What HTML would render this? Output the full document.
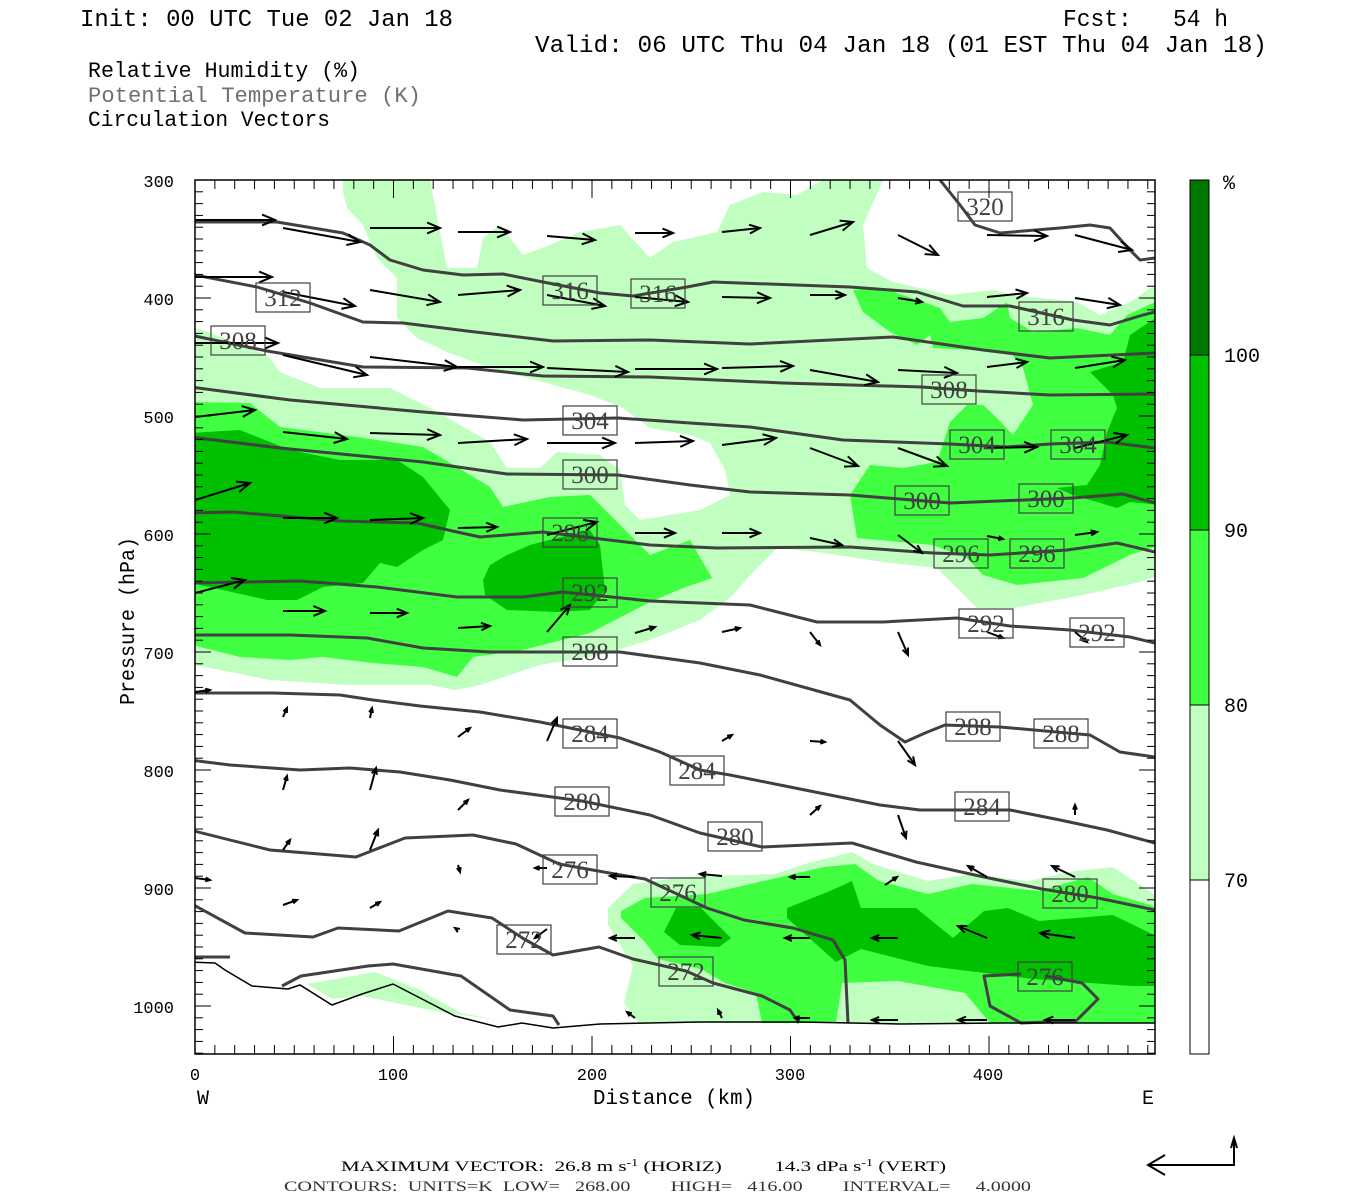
<!DOCTYPE html>
<html><head><meta charset="utf-8"><style>
html,body{margin:0;padding:0;background:#fff;}
svg{display:block;}
text{font-family:"Liberation Serif",serif;}
.m{font-family:"Liberation Mono",monospace;}
</style></head><body>
<svg id="s" width="1350" height="1200" viewBox="0 0 1350 1200" xmlns="http://www.w3.org/2000/svg">
<defs><clipPath id="pc"><rect x="195" y="180" width="960" height="874"/></clipPath></defs>
<text class="m" x="80" y="26" font-size="24" textLength="373" lengthAdjust="spacingAndGlyphs">Init: 00 UTC Tue 02 Jan 18</text>
<text class="m" x="1063" y="26" font-size="24" textLength="165" lengthAdjust="spacingAndGlyphs" xml:space="preserve">Fcst:   54 h</text>
<text class="m" x="535" y="52" font-size="24" textLength="732" lengthAdjust="spacingAndGlyphs">Valid: 06 UTC Thu 04 Jan 18 (01 EST Thu 04 Jan 18)</text>
<text class="m" x="88" y="77" font-size="22" textLength="272" lengthAdjust="spacingAndGlyphs">Relative Humidity (%)</text>
<text class="m" x="88" y="102" font-size="22" fill="#707070" textLength="333" lengthAdjust="spacingAndGlyphs">Potential Temperature (K)</text>
<text class="m" x="88" y="126" font-size="22" textLength="242" lengthAdjust="spacingAndGlyphs">Circulation Vectors</text>

<g clip-path="url(#pc)">
<rect x="195" y="180" width="960" height="874" fill="#c0ffc0"/>
<g fill="#fff">
<polygon points="195,180 343,180 343,192 347,208 363,225 377,258 397,278 397,318 417,338 447,352 490,368 543,382 590,395 623,408 650,428 690,435 710,443 725,470 730,495 700,510 640,520 625,505 620,470 600,455 557,452 540,468 507,468 490,442 430,408 390,388 320,388 280,372 267,355 203,330 195,328"/>
<polygon points="883,180 1160,180 1155,285 1130,302 1100,315 1077,302 1013,295 993,290 950,295 893,282 867,268 863,225"/>
<polygon points="430,180 823,180 797,195 763,192 730,205 717,232 673,242 650,258 620,225 580,232 550,245 523,255 500,225 483,238 477,268 447,268"/>
<polygon points="1160,575 1140,582 1083,595 1013,608 977,608 937,568 883,562 817,552 777,548 750,575 733,595 700,620 650,640 600,655 540,665 480,685 455,690 430,685 350,685 270,680 195,665 195,1060 1160,1060"/>
</g>
<g fill="#40ff40">
<polygon points="190,402 250,403 280,427 357,437 423,447 457,467 490,487 503,507 550,497 590,495 650,555 690,540 712,578 683,588 650,602 590,633 523,650 473,657 457,677 423,667 373,663 323,657 290,660 240,657 200,647 190,643"/>
<polygon points="853,290 883,288 923,302 940,308 950,322 983,318 1007,302 1010,318 1033,332 1077,328 1110,335 1127,315 1160,300 1160,545 1130,555 1083,578 1017,585 983,575 967,558 933,545 857,538 850,495 870,465 903,468 937,462 950,422 967,405 983,405 997,418 1013,435 1033,405 1023,368 1010,352 933,348 930,335 917,345 890,332 863,312"/>
</g>
<g fill="#00c000">
<polygon points="190,433 240,430 290,450 340,460 397,460 423,477 450,510 443,540 423,550 397,567 380,563 363,583 323,587 297,600 267,600 223,590 190,583"/>
<polygon points="483,580 490,565 507,555 530,545 557,538 590,530 600,545 605,590 590,610 557,612 507,610 485,595"/>
<polygon points="1130,335 1160,315 1160,505 1130,502 1117,508 1097,502 1073,495 1057,488 1087,485 1100,465 1107,432 1117,408 1113,395 1090,372 1123,362"/>
</g>
<polygon fill="#c0ffc0" points="608,908 633,884 682,877 775,874 805,864 852,852 873,864 928,881 972,874 1027,881 1076,871 1113,867 1160,898 1160,1023 639,1023 624,1003 633,966 608,925"/>
<polygon fill="#40ff40" points="621,911 645,898 707,894 781,877 824,867 855,864 879,881 928,894 972,884 1039,891 1088,877 1113,894 1160,908 1160,1023 762,1023 756,993 725,983 701,969 658,959 645,942 621,918"/>
<polygon fill="#c0ffc0" points="842,983 898,981 965,993 990,1023 836,1023"/>
<polygon fill="#00c000" points="664,932 676,908 701,908 731,938 719,947 680,945"/>
<polygon fill="#00c000" points="787,908 830,891 852,881 861,908 916,908 953,938 984,911 1008,908 1039,921 1113,915 1160,938 1160,986 1132,986 1033,979 928,966 861,949 836,962 787,918"/>
<polygon fill="#c0ffc0" points="307,984 375,972 420,990 461,1013 498,1020 440,1012 362,996 332,999"/>
<g fill="none" stroke="#404040" stroke-width="3" stroke-linejoin="round">
<polyline points="940,180 960,205 975,225 1000,233 1060,228 1090,225 1110,228 1130,250 1140,260 1155,258"/>
<polyline points="190,222 277,222 343,233 370,245 390,260 423,270 463,275 503,274 543,282 600,293 633,296 687,287 713,282 850,287 917,292 963,306 1010,306 1073,320 1110,325 1143,315 1155,312"/>
<polyline points="190,274 257,287 310,303 363,322 403,323 467,331 553,341 650,340 750,344 893,337 983,350 1050,358 1155,353"/>
<polyline points="190,335 267,351 363,367 467,368 543,376 650,377 783,383 922,387 978,391 1050,395 1155,394"/>
<polyline points="190,387 290,400 423,412 523,420 618,418 690,423 750,427 843,440 950,444 1007,447 1050,444 1107,442 1155,448"/>
<polyline points="190,437 280,448 423,462 507,474 618,475 690,485 750,492 850,495 950,503 1073,498 1123,494 1155,503"/>
<polyline points="190,513 233,512 340,521 417,523 457,532 480,537 543,532 650,545 717,548 850,547 933,553 990,555 1067,550 1117,543 1155,552"/>
<polyline points="190,583 300,581 377,587 457,597 523,597 563,592 650,601 750,605 817,622 883,622 957,618 1010,626 1070,630 1130,637 1155,643"/>
<polyline points="190,635 290,635 367,638 423,648 490,652 620,652 700,663 760,675 850,700 880,725 905,742 925,733 945,725 1000,727 1090,735 1120,752 1155,757"/>
<polyline points="190,693 273,693 340,695 373,700 420,706 480,712 540,722 620,738 660,752 700,770 730,775 780,785 830,795 880,805 920,810 1010,810 1060,820 1107,830 1155,843"/>
<polyline points="190,760 230,765 300,770 350,768 400,772 450,780 500,790 582,801 650,815 700,833 762,847 852,843 916,862 984,877 1042,889 1098,898 1155,910"/>
<polyline points="190,830 270,850 356,857 405,838 473,835 516,844 559,864 615,874 645,879 707,908 744,920 793,928 833,940 845,960 848,1023"/>
<polyline points="190,903 245,933 313,937 338,928 399,931 448,911 492,918 524,939 553,955 599,947 633,959 686,971 713,983 762,996 790,1010 799,1023"/>
<polyline points="282,986 301,976 368,966 393,964 461,976 510,1010 553,1016 559,1025"/>
<polyline points="1021,974 984,976 990,1006 1021,1023 1076,1021 1098,999 1082,983 1045,976"/>
</g>
<polyline fill="none" stroke="#000" stroke-width="1.5" points="190,962 215,963 225,970 252,986 288,989 300,985 332,1005 362,994 393,984 455,1016 498,1027 522,1023 553,1028 600,1024 700,1022 800,1022 900,1024 1000,1023 1155,1023"/>
<line x1="190" y1="957" x2="230" y2="957" stroke="#404040" stroke-width="3"/>
<g id="arr" stroke="#000" stroke-width="2" fill="none"></g>
<g font-size="25" fill="#404040" text-anchor="middle" id="lbl"></g>
</g>
<rect x="195" y="180" width="960" height="874" fill="none" stroke="#000" stroke-width="1.5"/>
<g id="ticks" stroke="#000" stroke-width="1"></g>
<g font-size="17" text-anchor="end">
<text class="m" x="174" y="187">300</text><text class="m" x="174" y="305">400</text><text class="m" x="174" y="423">500</text><text class="m" x="174" y="541">600</text><text class="m" x="174" y="659">700</text><text class="m" x="174" y="777">800</text><text class="m" x="174" y="895">900</text><text class="m" x="174" y="1013">1000</text>
</g>
<g font-size="17" text-anchor="middle">
<text class="m" x="195" y="1080">0</text><text class="m" x="393" y="1080">100</text><text class="m" x="592" y="1080">200</text><text class="m" x="790" y="1080">300</text><text class="m" x="988" y="1080">400</text>
</g>
<text x="203" y="1104" font-size="20" text-anchor="middle" class="m">W</text>
<text x="1148" y="1104" font-size="20" text-anchor="middle" class="m">E</text>
<text x="593" y="1104" font-size="21" class="m" textLength="162" lengthAdjust="spacingAndGlyphs">Distance (km)</text>
<text transform="translate(134,705) rotate(-90)" font-size="21" class="m" textLength="168" lengthAdjust="spacingAndGlyphs">Pressure (hPa)</text>
<rect x="1190" y="180" width="19" height="175" fill="#007800"/>
<rect x="1190" y="355" width="19" height="175" fill="#00c000"/>
<rect x="1190" y="530" width="19" height="175" fill="#40ff40"/>
<rect x="1190" y="705" width="19" height="175" fill="#c0ffc0"/>
<rect x="1190" y="180" width="19" height="874" fill="none" stroke="#000"/>
<g stroke="#000"><line x1="1190" y1="355" x2="1209" y2="355"/><line x1="1190" y1="530" x2="1209" y2="530"/><line x1="1190" y1="705" x2="1209" y2="705"/><line x1="1190" y1="880" x2="1209" y2="880"/></g>
<g font-size="20"><text class="m" x="1223" y="189">%</text><text class="m" x="1224" y="362">100</text><text class="m" x="1224" y="537">90</text><text class="m" x="1224" y="712">80</text><text class="m" x="1224" y="887">70</text></g>
<text x="341" y="1171" font-size="15" textLength="605" lengthAdjust="spacingAndGlyphs" xml:space="preserve">MAXIMUM VECTOR:  26.8 m s<tspan dy="-5" font-size="10">-1</tspan><tspan dy="5"> (HORIZ)          14.3 dPa s</tspan><tspan dy="-5" font-size="10">-1</tspan><tspan dy="5"> (VERT)</tspan></text>
<text x="284" y="1191" font-size="15" fill="#333" textLength="747" lengthAdjust="spacingAndGlyphs" xml:space="preserve">CONTOURS:  UNITS=K  LOW=   268.00        HIGH=   416.00        INTERVAL=     4.0000</text>
<g stroke="#000" stroke-width="2" fill="none">
<polyline points="1148,1165 1234,1165 1234,1140"/>
<polyline points="1165,1155 1148,1165 1165,1175"/>
<polyline points="1231,1148 1234,1138 1237,1148"/>
</g>
</svg>
<script>
var NS="http://www.w3.org/2000/svg";
function el(p,t,a){var e=document.createElementNS(NS,t);for(var k in a)e.setAttribute(k,a[k]);p.appendChild(e);return e;}
var A=[
[195,220,275,220],[283,228,360,242],[370,228,440,228],[458,232,510,232],[547,236,595,240],[635,233,673,233],[722,232,760,228],[810,235,853,222],[898,235,938,255],[987,235,1047,236],[1075,235,1132,250],
[195,277,272,277],[283,292,355,306],[370,290,440,302],[458,295,520,290],[547,295,605,306],[635,297,688,302],[722,297,770,298],[810,295,845,295],[898,298,922,302],[987,297,1027,293],[1075,298,1120,305],
[195,343,278,343],[283,355,367,375],[370,357,457,367],[458,367,543,367],[547,368,628,372],[635,369,717,369],[722,368,793,366],[810,370,878,382],[898,370,957,373],[987,367,1027,362],[1075,368,1125,360],
[195,417,255,410],[283,432,347,439],[370,433,440,435],[458,443,527,439],[547,443,615,443],[635,443,693,441],[722,445,776,438],[810,448,858,466],[898,448,947,466],[987,448,1037,447],[1075,448,1127,435],
[195,500,250,483],[283,518,337,518],[370,520,423,518],[458,528,497,527],[547,535,597,522],[635,533,675,533],[722,533,760,533],[810,538,842,545],[898,535,922,553],[987,536,1003,539],[1075,535,1097,532],
[195,593,245,580],[283,611,325,611],[370,613,407,613],[458,628,490,626],[547,632,570,605],[635,633,655,627],[722,632,740,628],[810,632,820,645],[898,632,908,655],[987,632,1003,638],[1075,632,1087,642],
[195,692,210,690],[283,717,287,708],[370,718,372,708],[458,737,470,728],[547,741,557,718],[722,741,732,735],[810,741,825,742],[898,741,915,765],
[283,790,287,776],[370,790,376,768],[458,810,468,800],[810,815,820,806],[898,815,906,838],[1075,815,1075,805],
[195,878,210,880],[283,850,290,840],[370,850,378,830],[458,865,460,872],[547,868,535,868],[635,877,610,876],[722,876,700,874],[810,877,790,877],[885,885,897,877],[987,877,968,866],[1075,877,1052,866],
[283,905,297,900],[370,908,380,902],[458,930,455,928],[547,929,535,938],[635,938,610,938],[722,938,692,935],[810,938,785,938],[898,938,872,938],[987,938,958,926],[1075,938,1040,933],
[635,1018,627,1012],[722,1018,718,1010],[810,1018,795,1018],[898,1020,872,1020],[987,1020,958,1020],[1075,1020,1045,1020]];
var g=document.getElementById("arr");
A.forEach(function(a){var dx=a[2]-a[0],dy=a[3]-a[1],L=Math.sqrt(dx*dx+dy*dy)||1,ux=dx/L,uy=dy/L;var h=Math.min(14,Math.max(5,L*0.3));
el(g,"line",{x1:a[0],y1:a[1],x2:a[2],y2:a[3]});
var c=Math.cos(0.4),s=Math.sin(0.4);
var p1=[a[2]-h*(ux*c-uy*s),a[3]-h*(uy*c+ux*s)],p2=[a[2]-h*(ux*c+uy*s),a[3]-h*(uy*c-ux*s)];
el(g,"polyline",{points:p1+" "+a[2]+","+a[3]+" "+p2});});
var L=[[985,206,"320"],[570,290,"316"],[658,293,"316"],[1046,316,"316"],[283,297,"312"],[238,340,"308"],[949,389,"308"],[590,420,"304"],[977,444,"304"],[1078,444,"304"],[590,474,"300"],[922,500,"300"],[1046,498,"300"],[570,532,"296"],[961,553,"296"],[1037,553,"296"],[590,592,"292"],[986,623,"292"],[1097,632,"292"],[590,651,"288"],[973,726,"288"],[1061,733,"288"],[590,733,"284"],[697,770,"284"],[982,806,"284"],[582,801,"280"],[735,836,"280"],[1070,893,"280"],[570,869,"276"],[678,892,"276"],[1045,976,"276"],[524,939,"272"],[686,971,"272"]];
var lg=document.getElementById("lbl");
L.forEach(function(l){el(lg,"rect",{x:l[0]-27,y:l[1]-14,width:54,height:29,fill:"none",stroke:"#404040","stroke-width":1.2});var t=el(lg,"text",{x:l[0],y:l[1]+9});t.textContent=l[2];});
var tk=document.getElementById("ticks");
for(var p=310;p<=1040;p+=10){var y=180+(p-300)*1.18,len=(p%100==0)?16:8;el(tk,"line",{x1:195,y1:y,x2:195+len,y2:y});el(tk,"line",{x1:1155,y1:y,x2:1155-len,y2:y});}
for(var d=10;d<=480;d+=10){var x=195+d*1.985,len=(d%100==0)?18:9;el(tk,"line",{x1:x,y1:180,x2:x,y2:180+len});el(tk,"line",{x1:x,y1:1054,x2:x,y2:1054-len});}
</script>
</body></html>
